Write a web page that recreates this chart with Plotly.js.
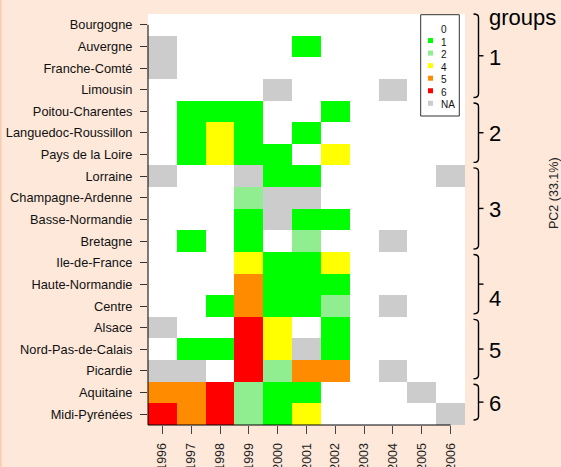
<!DOCTYPE html>
<html>
<head>
<meta charset="utf-8">
<script src="https://cdn.plot.ly/plotly-3.0.1.min.js"></script>
<style>html,body{margin:0;padding:0;background:#FDE8DA;}</style>
</head>
<body>
<div id="chart" style="width:561px;height:467px;"></div>
<script>
// ---------- data ----------
const years = [1996, 1997, 1998, 1999, 2000, 2001, 2002, 2003, 2004, 2005, 2006];
const regions = [
  "Bourgogne", "Auvergne", "Franche-Comté", "Limousin",
  "Poitou-Charentes", "Languedoc-Roussillon", "Pays de la Loire",
  "Lorraine", "Champagne-Ardenne", "Basse-Normandie", "Bretagne",
  "Ile-de-France", "Haute-Normandie", "Centre",
  "Alsace", "Nord-Pas-de-Calais", "Picardie",
  "Aquitaine", "Midi-Pyrénées"
];
const NA = null;
// one row per region, one value per year (null = NA)
const cellValues = [
  [0, 0, 0, 0, 0, 0, 0, 0, 0, 0, 0],
  [NA, 0, 0, 0, 0, 1, 0, 0, 0, 0, 0],
  [NA, 0, 0, 0, 0, 0, 0, 0, 0, 0, 0],
  [0, 0, 0, 0, NA, 0, 0, 0, NA, 0, 0],
  [0, 1, 1, 1, 0, 0, 1, 0, 0, 0, 0],
  [0, 1, 4, 1, 0, 1, 0, 0, 0, 0, 0],
  [0, 1, 4, 1, 1, 0, 4, 0, 0, 0, 0],
  [NA, 0, 0, NA, 1, 1, 0, 0, 0, 0, NA],
  [0, 0, 0, 2, NA, NA, 0, 0, 0, 0, 0],
  [0, 0, 0, 1, NA, 1, 1, 0, 0, 0, 0],
  [0, 1, 0, 1, 0, 2, 0, 0, NA, 0, 0],
  [0, 0, 0, 4, 1, 1, 4, 0, 0, 0, 0],
  [0, 0, 0, 5, 1, 1, 1, 0, 0, 0, 0],
  [0, 0, 1, 5, 1, 1, 2, 0, NA, 0, 0],
  [NA, 0, 0, 6, 4, 0, 1, 0, 0, 0, 0],
  [0, 1, 1, 6, 4, NA, 1, 0, 0, 0, 0],
  [NA, NA, 0, 6, 2, 5, 5, 0, NA, 0, 0],
  [5, 5, 6, 2, 1, 1, 0, 0, 0, NA, 0],
  [6, 5, 6, 2, 1, 4, 0, 0, 0, 0, NA]
];
const levelLabels = ["0", "1", "2", "4", "5", "6", "NA"];
const groupLabels = ["1", "2", "3", "4", "5", "6"];
const groupSizes = [4, 3, 4, 3, 3, 2];
const sideTitle = "groups";
const pcLabel = "PC2 (33.1%)";

// ---------- style ----------
const levelColors = ["#FFFFFF", "#00FF00", "#90EE90", "#FFFF00", "#FF8C00", "#FF0000", "#CCCCCC"];
const groupLabelShift = [2, 1, 1.5, 14, 1, 1];
const BG = "#FDE8DA";
const W = 561, H = 467;
const M = {l: 148, r: 96, t: 14, b: 42};
const PW = W - M.l - M.r, PH = H - M.t - M.b;
const rowH = PH / regions.length;
const px = x => (x - M.l) / PW;           // pixel x -> paper
const py = y => (H - M.b - y) / PH;       // pixel y -> paper

const z = cellValues.map(row => row.map(v => levelLabels.indexOf(v === null ? "NA" : String(v))));
const nL = levelLabels.length;
const colorscale = [];
levelColors.forEach((c, k) => { colorscale.push([k / nL, c]); colorscale.push([(k + 1) / nL, c]); });

const trace = {
  type: "heatmap",
  x: years,
  y: regions.map((_, i) => i),
  z: z,
  zmin: -0.5, zmax: nL - 0.5,
  colorscale: colorscale,
  showscale: false,
  hoverinfo: "skip"
};

const shapes = [];
const annotations = [];

// axis lines (R style)
shapes.push({type: "line", xref: "paper", yref: "paper", x0: 0, x1: 0,
  y0: py(M.t + rowH * 0.5), y1: 0, line: {color: "#000", width: 1}});
shapes.push({type: "line", xref: "paper", yref: "paper", x0: 0,
  x1: (years[years.length - 1] - (years[0] - 0.5)) / years.length, y0: 0, y1: 0,
  line: {color: "#000", width: 1}});

// page left border
shapes.push({type: "line", xref: "paper", yref: "paper", x0: px(0.8), x1: px(0.8), y0: py(0), y1: py(H),
  line: {color: "#F6CDB0", width: 1.6}});

// legend box
const lgL = 420.7, lgR = 459.3, lgT = 14.7, lgB = 116;
shapes.push({type: "rect", xref: "paper", yref: "paper", x0: px(lgL), x1: px(lgR), y0: py(lgT), y1: py(lgB),
  fillcolor: "#FFFFFF", line: {color: "#333", width: 1}});
levelLabels.forEach((lab, k) => {
  const yc = 29.5 + k * 12.55;
  if (k > 0) {
    shapes.push({type: "rect", xref: "paper", yref: "paper",
      x0: px(428), x1: px(433), y0: py(yc - 4), y1: py(yc + 1),
      fillcolor: levelColors[k], line: {width: 0}});
  }
  annotations.push({xref: "paper", yref: "paper", x: px(438.5), y: py(yc), text: lab,
    showarrow: false, xanchor: "left", yanchor: "middle",
    font: {size: 10, color: "#111"}});
});

// group brackets
let start = 0;
groupSizes.forEach((n, g) => {
  const top = M.t + start * rowH + (g === 0 ? 0 : 2.5);
  const bot = M.t + (start + n) * rowH - (g === groupSizes.length - 1 ? 5 : 3);
  const mid = (top + bot) / 2;
  const xh = 473.5, xv = 478.5, r = 3.5;
  shapes.push({type: "path", xref: "paper", yref: "paper",
    path: `M ${px(xh)},${py(top)} Q ${px(xv)},${py(top)} ${px(xv)},${py(top + r)} L ${px(xv)},${py(bot - r)} Q ${px(xv)},${py(bot)} ${px(xh)},${py(bot)}`,
    line: {color: "#000", width: 1.4}});
  shapes.push({type: "line", xref: "paper", yref: "paper", x0: px(xv), x1: px(483.5), y0: py(mid), y1: py(mid),
    line: {color: "#000", width: 1.4}});
  annotations.push({xref: "paper", yref: "paper", x: px(487), y: py(mid + groupLabelShift[g]), text: groupLabels[g],
    showarrow: false, xanchor: "left", yanchor: "middle", font: {size: 22, color: "#000"}});
  start += n;
});
annotations.push({xref: "paper", yref: "paper", x: px(487), y: py(17.5), text: sideTitle,
  showarrow: false, xanchor: "left", yanchor: "middle", font: {size: 22, color: "#000"}});
annotations.push({xref: "paper", yref: "paper", x: px(554), y: py(193), text: pcLabel,
  showarrow: false, textangle: -90, xanchor: "center", yanchor: "middle", font: {size: 12.5, color: "#222"}});

const layout = {
  width: W, height: H,
  margin: M,
  paper_bgcolor: BG,
  plot_bgcolor: "#FFFFFF",
  font: {family: "Liberation Sans, Arial, sans-serif", color: "#222"},
  showlegend: false,
  xaxis: {
    range: [years[0] - 0.5, years[years.length - 1] + 0.5],
    tickvals: years, ticktext: years.map(String),
    tickangle: -90, ticks: "outside", ticklen: 8, tickcolor: "#444", tickwidth: 1,
    ticklabelstandoff: 4,
    showgrid: false, zeroline: false, showline: false,
    tickfont: {size: 12.5, color: "#222"}, fixedrange: true
  },
  yaxis: {
    range: [regions.length - 0.5, -0.5],
    tickvals: regions.map((_, i) => i), ticktext: regions,
    ticks: "outside", ticklen: 7, tickcolor: "#333", tickwidth: 1,
    ticklabelstandoff: 5,
    showgrid: false, zeroline: false, showline: false,
    tickfont: {size: 12.8, color: "#111"}, fixedrange: true
  },
  shapes: shapes,
  annotations: annotations
};

Plotly.newPlot("chart", [trace], layout, {displayModeBar: false, staticPlot: true});
</script>
</body>
</html>
